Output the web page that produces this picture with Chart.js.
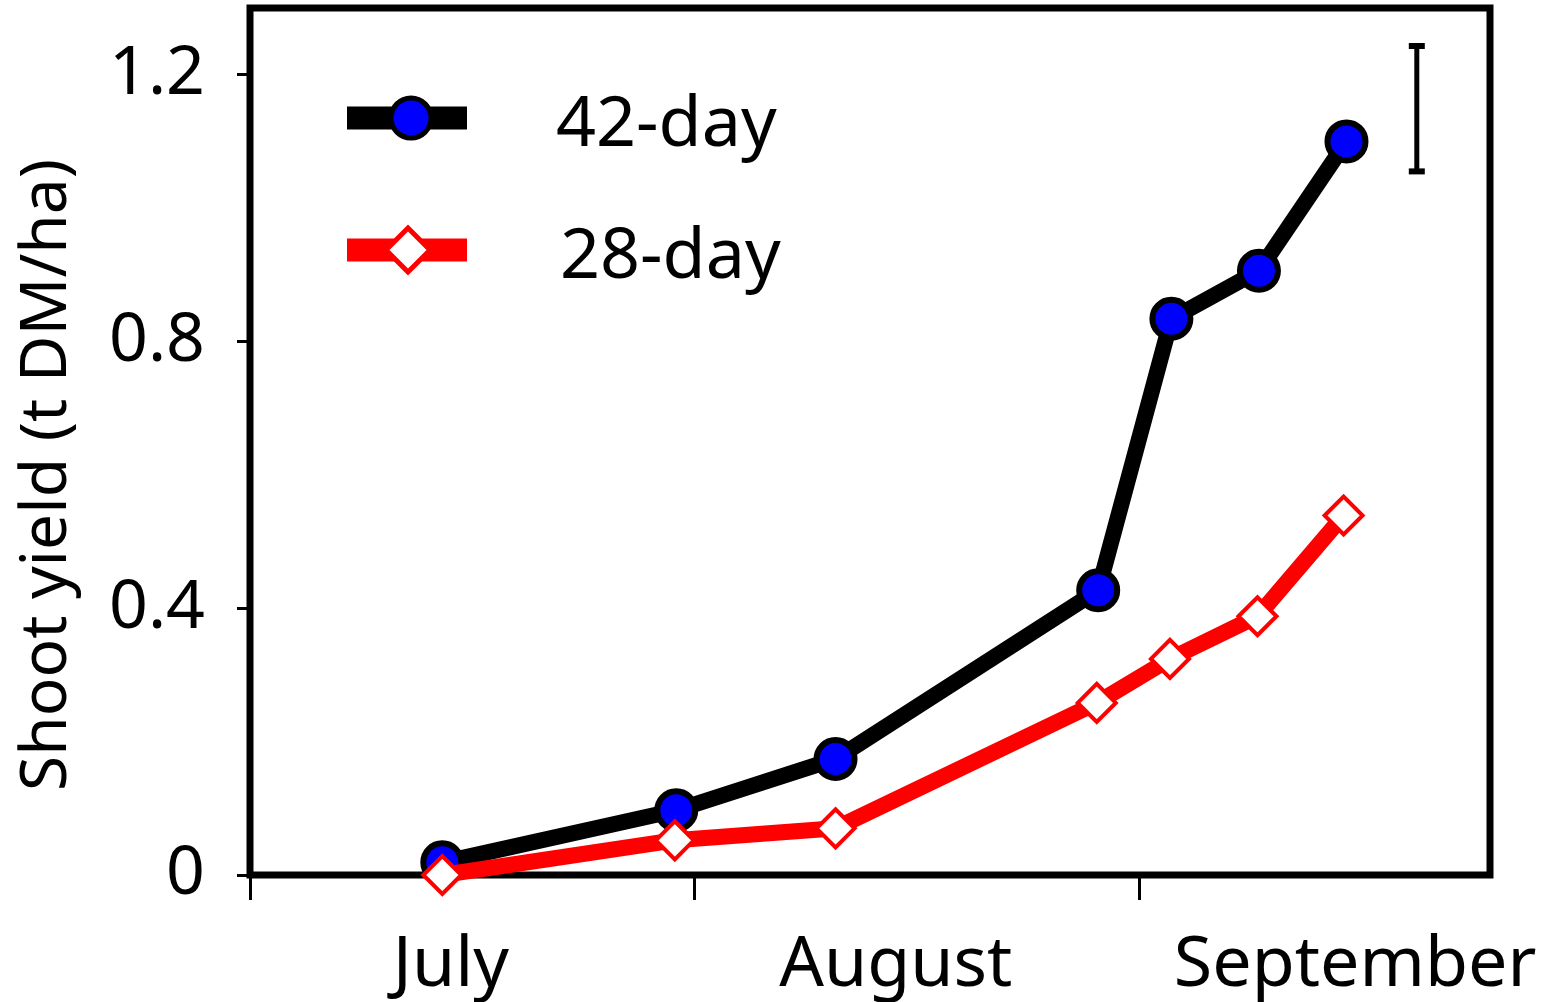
<!DOCTYPE html>
<html>
<head>
<meta charset="utf-8">
<script src="https://cdn.jsdelivr.net/npm/chart.js@4/dist/chart.umd.min.js"></script>
<style>
  html, body { margin: 0; padding: 0; background: #fff; }
  #wrap { width: 1554px; height: 1002px; }
</style>
</head>
<body>
<div id="wrap"><canvas id="yieldChart"></canvas></div>
<script>
// x is days since 1 July
const monthStarts = [0, 31, 62];
const monthLabelDays = [14, 45, 77];
const monthNames = ['July', 'August', 'September'];
const yTicks = [0, 0.4, 0.8, 1.2];

const days42 = [13.4, 29.7, 40.8, 59.1, 64.2, 70.3, 76.4];
const yield42 = [0.019, 0.097, 0.174, 0.427, 0.834, 0.906, 1.100];
const days28 = [13.4, 29.6, 40.8, 59.0, 64.1, 70.2, 76.2];
const yield28 = [0.0, 0.052, 0.070, 0.258, 0.324, 0.388, 0.539];

// LSD bar, top right
const lsdDay = 81.3;
const lsdRange = [1.055, 1.243];

const FONT = "'Noto Sans', sans-serif";

function toPoints(xs, ys) {
    return xs.map((x, i) => ({ x: x, y: ys[i] }));
}

const extras = {
    id: 'extras',
    beforeDatasetsDraw(chart) {
        const { ctx, chartArea } = chart;
        ctx.save();
        ctx.strokeStyle = '#000';
        ctx.lineWidth = 7;
        ctx.strokeRect(chartArea.left, chartArea.top, chartArea.right - chartArea.left, chartArea.bottom - chartArea.top);
        ctx.restore();
    },
    afterDraw(chart) {
        const ctx = chart.ctx;
        ctx.save();
        // y title
        ctx.translate(48, 475);
        ctx.rotate(-Math.PI / 2);
        ctx.fillStyle = '#000';
        ctx.font = '64px ' + FONT;
        ctx.textAlign = 'center';
        ctx.textBaseline = 'middle';
        ctx.fillText('Shoot yield (t DM/ha)', 0, 0);
        ctx.restore();

        // legend
        const rows = [
            { y: 118, line: '#000', fill: '#0000ff', stroke: '#000', style: 'circle', r: 20, bw: 5, mx: 411, tx: 556, label: '42-day' },
            { y: 250, line: '#ff0000', fill: '#fff', stroke: '#ff0000', style: 'rectRot', r: 22, bw: 5, mx: 408, tx: 560, label: '28-day' }
        ];
        ctx.save();
        rows.forEach(row => {
            ctx.strokeStyle = row.line;
            ctx.lineWidth = 23;
            ctx.lineCap = 'butt';
            ctx.beginPath();
            ctx.moveTo(347, row.y);
            ctx.lineTo(467, row.y);
            ctx.stroke();

            ctx.fillStyle = row.fill;
            ctx.strokeStyle = row.stroke;
            ctx.lineWidth = row.bw;
            Chart.helpers.drawPoint(ctx, { pointStyle: row.style, radius: row.r, borderWidth: row.bw, rotation: 0 }, row.mx, row.y);

            ctx.fillStyle = '#000';
            ctx.font = '70px ' + FONT;
            ctx.textAlign = 'left';
            ctx.textBaseline = 'middle';
            ctx.fillText(row.label, row.tx, row.y + 8);
        });
        ctx.restore();
    }
};

new Chart(document.getElementById('yieldChart'), {
    type: 'line',
    data: {
        datasets: [
            {
                label: '42-day',
                data: toPoints(days42, yield42),
                borderColor: '#000',
                borderWidth: 16,
                pointStyle: 'circle',
                pointRadius: 19,
                pointBorderWidth: 6,
                pointBackgroundColor: '#0000ff',
                pointBorderColor: '#000',
                order: 2,
                clip: false
            },
            {
                label: '28-day',
                data: toPoints(days28, yield28),
                borderColor: '#ff0000',
                borderWidth: 16,
                pointStyle: 'rectRot',
                pointRadius: 19,
                pointBorderWidth: 4,
                pointBackgroundColor: '#fff',
                pointBorderColor: '#ff0000',
                order: 1,
                clip: false
            },
            {
                label: 'LSD',
                data: lsdRange.map(v => ({ x: lsdDay, y: v })),
                borderColor: '#000',
                borderWidth: 5,
                pointStyle: 'line',
                pointRadius: 8,
                pointBorderWidth: 6,
                pointBorderColor: '#000',
                order: 3,
                clip: false
            }
        ]
    },
    options: {
        responsive: true,
        maintainAspectRatio: false,
        animation: false,
        events: [],
        layout: { autoPadding: false, padding: { top: 8, right: 64, left: 0, bottom: 0 } },
        plugins: {
            legend: { display: false },
            tooltip: { enabled: false }
        },
        scales: {
            x: {
                type: 'linear',
                min: 0,
                max: 86.4,
                afterBuildTicks: scale => {
                    scale.ticks = monthStarts.concat(monthLabelDays).sort((a, b) => a - b).map(v => ({ value: v }));
                },
                afterFit: scale => {
                    scale.height = 127;
                    scale.paddingLeft = 0;
                    scale.paddingRight = 0;
                },
                grid: {
                    drawOnChartArea: false,
                    tickLength: 25,
                    tickWidth: 3,
                    tickColor: ctx => (ctx.tick && monthStarts.includes(ctx.tick.value)) ? '#000' : 'rgba(0,0,0,0)'
                },
                border: { display: false },
                ticks: {
                    autoSkip: false,
                    maxRotation: 0,
                    padding: 24,
                    color: '#000',
                    font: { family: FONT, size: 70 },
                    callback: v => {
                        const i = monthLabelDays.indexOf(v);
                        return i >= 0 ? monthNames[i] : '';
                    }
                }
            },
            y: {
                min: 0,
                max: 1.3,
                afterBuildTicks: scale => {
                    scale.ticks = yTicks.map(v => ({ value: v }));
                },
                afterFit: scale => {
                    scale.width = 250;
                    scale.paddingTop = 0;
                    scale.paddingBottom = 0;
                },
                grid: {
                    drawOnChartArea: false,
                    tickLength: 13,
                    tickWidth: 3,
                    tickColor: '#000'
                },
                border: { display: false },
                ticks: {
                    padding: 32,
                    color: '#000',
                    font: { family: FONT, size: 68 },
                    callback: v => v === 0 ? '0' : v.toFixed(1)
                }
            }
        }
    },
    plugins: [extras]
});
</script>
</body>
</html>
